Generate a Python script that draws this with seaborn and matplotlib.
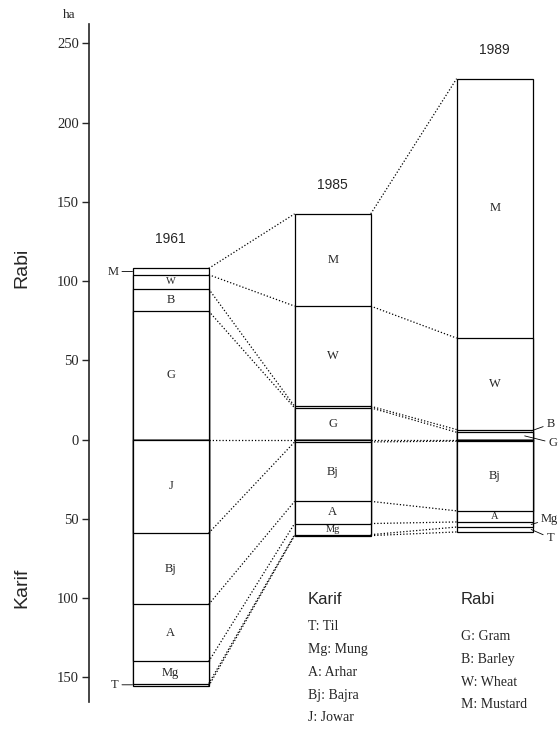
import matplotlib
matplotlib.use("Agg")
import matplotlib.pyplot as plt
import numpy as np
import pandas as pd
import seaborn as sns

years = ["1961", "1985", "1989"]

# Rabi crops, stacked upwards from zero (ha)
rabi_crops = ["G", "B", "W", "M"]
gram = [81, 20, 4.6]
barley = [14, 1, 1.7]
wheat = [9, 63.2, 57.7]
mustard = [4, 58.2, 163.7]

# Karif crops, stacked downwards from zero (ha)
karif_crops = ["J", "Bj", "A", "Mg", "T"]
jowar = [59, 1.5, 1]
bajra = [45, 37.5, 44]
arhar = [36, 14, 7]
mung = [14, 7, 3.2]
til = [1.5, 0.6, 3.1]

karif_legend = ["T: Til", "Mg: Mung", "A: Arhar", "Bj: Bajra", "J: Jowar"]
rabi_legend = ["G: Gram", "B: Barley", "W: Wheat", "M: Mustard"]
tick_values = [-150, -100, -50, 0, 50, 100, 150, 200, 250]

# segments too thin for an inside label get a leader label instead
outside_labels = [
    ("1961", "M", (-10, 0)),
    ("1961", "T", (-10, 0)),
    ("1989", "B", (11, 5)),
    ("1989", "G", (17, -5)),
    ("1989", "Mg", (7, 4)),
    ("1989", "T", (11, -6)),
]

SERIF = "Liberation Serif"
SANS = "Liberation Sans"
BAR_W = 0.47

sns.set_style("ticks")
plt.rcParams["font.family"] = [SANS, "DejaVu Sans"]

# long table with the lower/upper edge of every segment
rows = []
sides = [
    ("Rabi", rabi_crops, [gram, barley, wheat, mustard], 1),
    ("Karif", karif_crops, [jowar, bajra, arhar, mung, til], -1),
]
for side, crops, series, sign in sides:
    for i, year in enumerate(years):
        cum = 0.0
        for crop, vals in zip(crops, series):
            v = vals[i]
            rows.append({"year": year, "pos": i, "side": side, "crop": crop,
                         "value": v, "lower": sign * cum, "upper": sign * (cum + v)})
            cum += v
df = pd.DataFrame(rows)

fig = plt.figure(figsize=(5.6, 7.34), dpi=100)
ax = fig.add_axes([88.5 / 560, 32 / 734, (560 - 88.5) / 560, 678 / 734])

# stacked bars: draw cumulative bars outermost first, inner ones on top
for side, crops, _, _ in sides:
    for crop in reversed(crops):
        sub = df[(df["side"] == side) & (df["crop"] == crop)]
        sns.barplot(data=sub, x="year", y="upper", order=years, color="white",
                    saturation=1, edgecolor="black", linewidth=0.9,
                    width=BAR_W, errorbar=None, ax=ax)

# dotted connectors between matching segment edges
for i in range(len(years) - 1):
    a = df[df["pos"] == i].set_index(["side", "crop"])
    b = df[df["pos"] == i + 1].set_index(["side", "crop"])
    edges = [(0.0, 0.0)] + [(a.loc[k, "upper"], b.loc[k, "upper"]) for k in a.index]
    for y0, y1 in edges:
        ax.plot([i + BAR_W / 2, i + 1 - BAR_W / 2], [y0, y1], color="black",
                linestyle=(0, (1, 1.6)), linewidth=0.9)

# labels inside segments
outside_keys = {(y, c) for y, c, _ in outside_labels}
for _, r in df.iterrows():
    if (r["year"], r["crop"]) in outside_keys or r["value"] < 5:
        continue
    size = 9 if r["value"] > 12 else 7.5
    ax.text(r["pos"], (r["lower"] + r["upper"]) / 2, r["crop"], ha="center",
            va="center", fontsize=size, family=SERIF)

for year, crop, (dx, dy) in outside_labels:
    r = df[(df["year"] == year) & (df["crop"] == crop)].iloc[0]
    mid = (r["lower"] + r["upper"]) / 2
    if dx < 0:
        x0 = r["pos"] - BAR_W / 2
        ha = "right"
    else:
        x0 = r["pos"] + BAR_W / 2 - (0.05 if crop == "G" else 0.01)
        ha = "left"
    ax.annotate(crop, xy=(x0, mid), xytext=(dx, dy), textcoords="offset points",
                ha=ha, va="center", fontsize=9, family=SERIF,
                arrowprops=dict(arrowstyle="-", linewidth=0.6, color="black",
                                shrinkA=0, shrinkB=0))

# year above each bar
for i, year in enumerate(years):
    top = df[(df["pos"] == i) & (df["side"] == "Rabi")]["upper"].max()
    ax.annotate(year, xy=(i, top), xytext=(0, 21), textcoords="offset points",
                ha="center", va="center", fontsize=10)

ax.set_xlim(-0.507, 2.403)
ax.set_ylim(-165.6, 262.2)
ax.set_xticks([])
ax.set_xlabel("")
ax.set_ylabel("")
ax.set_yticks(tick_values)
ax.set_yticklabels([str(abs(t)) for t in tick_values], family=SERIF, fontsize=10.5)
ax.tick_params(axis="y", direction="out", length=5, width=1, pad=2)
for s in ["top", "right", "bottom"]:
    ax.spines[s].set_visible(False)
ax.spines["left"].set_linewidth(1.2)

fig.text(69 / 560, 1 - 15 / 734, "ha", family=SERIF, fontsize=9.5, ha="center", va="center")
fig.text(22 / 560, 1 - 268 / 734, "Rabi", rotation=90, fontsize=14, ha="center", va="center")
fig.text(22 / 560, 1 - 588 / 734, "Karif", rotation=90, fontsize=14, ha="center", va="center")

# legend blocks
fig.text(308 / 560, 1 - 600 / 734, "Karif", fontsize=12, ha="left", va="center")
for k, label in enumerate(karif_legend):
    fig.text(308 / 560, 1 - (627 + 22.7 * k) / 734, label, family=SERIF,
             fontsize=10, ha="left", va="center")
fig.text(461 / 560, 1 - 600 / 734, "Rabi", fontsize=12, ha="left", va="center")
for k, label in enumerate(rabi_legend):
    fig.text(461 / 560, 1 - (637 + 22.6 * k) / 734, label, family=SERIF,
             fontsize=10, ha="left", va="center")

fig.savefig("out.png", dpi=100)
